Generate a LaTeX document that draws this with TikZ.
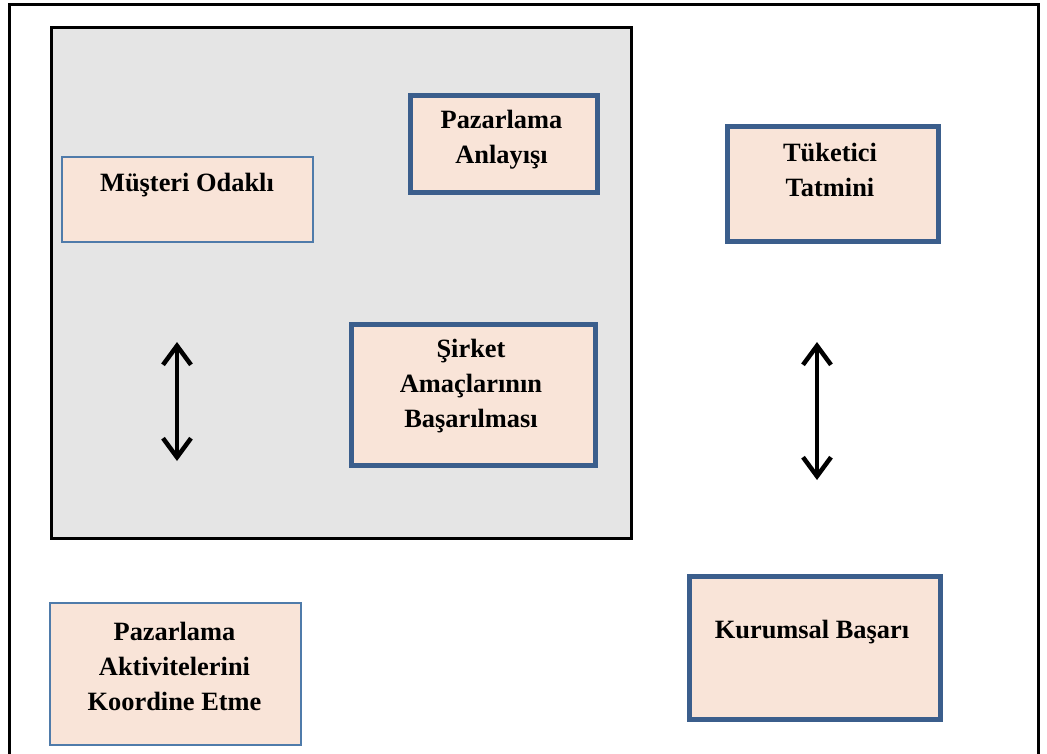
\documentclass[tikz,border=0pt]{standalone}
\usepackage{fontspec}
\setmainfont{Liberation Serif}
\usetikzlibrary{arrows.meta}
\definecolor{boxfill}{HTML}{F9E4D8}
\definecolor{boxedge}{HTML}{3B5E8C}
\definecolor{thinedge}{HTML}{4F7BAA}
\definecolor{panel}{HTML}{E5E5E5}
\tikzset{
  thickbox/.style={draw=boxedge, line width=4.5pt, fill=boxfill, inner sep=0pt, anchor=north west},
  thinbox/.style={draw=thinedge, line width=2.2pt, fill=boxfill, inner sep=0pt, anchor=north west},
  label text/.style={font=\fontsize{26.4}{35}\selectfont\bfseries, align=center, inner sep=0pt, text=black},
  twoway/.style={line width=4.5pt,
    {Straight Barb[length=19pt,width=28pt,line width=4.5pt]}-{Straight Barb[length=19pt,width=28pt,line width=4.5pt]}}
}
\begin{document}
\begin{tikzpicture}[x=1pt,y=-1pt]
\useasboundingbox (0,0) rectangle (1047,753);
\fill[white] (0,0) rectangle (1047,753);
% outer frame, open at the bottom edge
\begin{scope}
\clip (0,0) rectangle (1047,753);
\draw[line width=3pt] (9,770) -- (9,4) -- (1038,4) -- (1038,770);
\end{scope}
% grey panel
\node[draw=black, line width=3pt, fill=panel, inner sep=0pt, anchor=north west,
      minimum width=580pt, minimum height=511pt] (panel) at (49.5,25.5) {};

% boxes
\node[thinbox, minimum width=251pt, minimum height=85pt] (musteri) at (61,156) {};
\node[thickbox, minimum width=187pt, minimum height=97pt] (anlayis) at (408,93) {};
\node[thickbox, minimum width=211pt, minimum height=115pt] (tatmin) at (725,124) {};
\node[thickbox, minimum width=244pt, minimum height=141pt] (amac) at (349,322) {};
\node[thinbox, minimum width=251pt, minimum height=142pt] (koord) at (49,602) {};
\node[thickbox, minimum width=251pt, minimum height=143pt] (basari) at (687,574) {};

% box texts
\node[label text] (musteri-t) at (187,185) {Müşteri Odaklı};
\node[label text] (anlayis-t) at (501.5,140) {Pazarlama\\Anlayışı};
\node[label text] (tatmin-t) at (830,170) {Tüketici\\Tatmini};
\node[label text] (amac-t) at (471,386) {Şirket\\Amaçlarının\\Başarılması};
\node[label text] (koord-t) at (174.5,666) {Pazarlama\\Aktivitelerini\\Koordine Etme};
\node[label text] (basari-t) at (812,632) {Kurumsal Başarı};

% two-way arrows
\coordinate (la-top) at (177,342);
\coordinate (la-bot) at (177,461);
\coordinate (ra-top) at (817,342);
\coordinate (ra-bot) at (817,480);
\draw[twoway] (la-top) -- (la-bot);
\draw[twoway] (ra-top) -- (ra-bot);
\end{tikzpicture}
\end{document}
